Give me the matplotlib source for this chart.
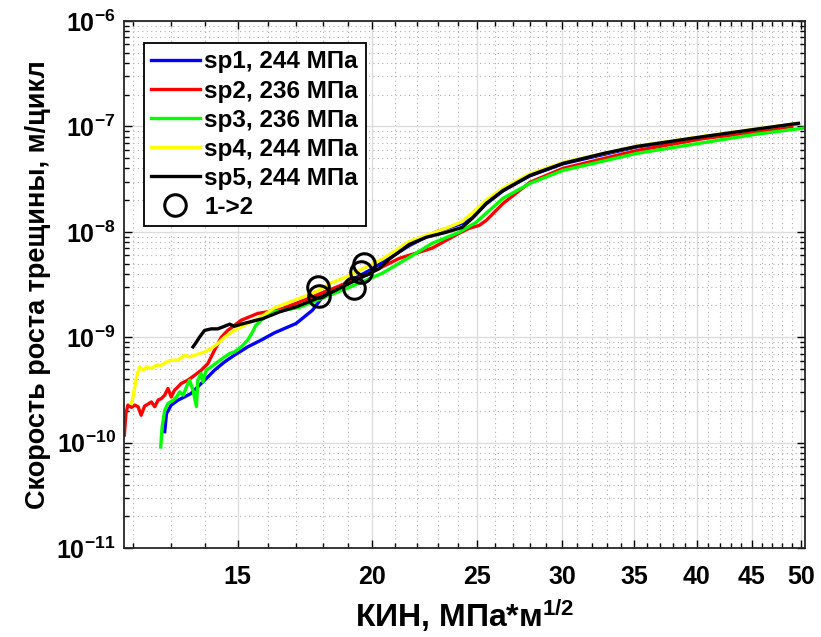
import math
import matplotlib
matplotlib.use("Agg")
import matplotlib.pyplot as plt
from matplotlib.ticker import FixedLocator, NullFormatter, LogLocator, FuncFormatter

plt.rcParams['font.family'] = ['Liberation Sans', 'DejaVu Sans']
plt.rcParams['font.weight'] = 'bold'
plt.rcParams['mathtext.fontset'] = 'custom'
plt.rcParams['mathtext.rm'] = 'Liberation Sans:bold'
plt.rcParams['mathtext.it'] = 'Liberation Sans:bold'
plt.rcParams['mathtext.bf'] = 'Liberation Sans:bold'

# sp1, 244 MPa
k1 = [12.84, 12.89, 13.02, 13.21, 13.4, 13.58, 13.88, 14.08, 14.28, 14.59, 14.9, 15.33,
      15.78, 16.23, 17.0, 17.6, 17.99, 18.38, 19.88, 21.65, 22.93, 24.23, 24.76, 25.51,
      26.45, 28.01, 30.06, 35.19, 40.69, 45.26, 49.5]
v1 = [1.27e-10, 1.89e-10, 2.27e-10, 2.53e-10, 2.72e-10, 2.92e-10, 3.64e-10, 4.2e-10,
      4.86e-10, 5.83e-10, 6.75e-10, 8.1e-10, 9.4e-10, 1.1e-9, 1.35e-9, 1.8e-9, 2.41e-9,
      2.79e-9, 4.3e-9, 7.4e-9, 1.0e-8, 1.2e-8, 1.35e-8, 1.84e-8, 2.45e-8, 3.4e-8, 4.42e-8,
      6.4e-8, 7.95e-8, 9.3e-8, 1.06e-7]

# sp2, 236 MPa
k2 = [11.78, 11.82, 11.87, 11.96, 12.04, 12.13, 12.21, 12.30, 12.39, 12.48, 12.57, 12.66,
      12.75, 12.84, 12.93, 13.02, 13.11, 13.21, 13.30, 13.49, 13.69, 13.88, 14.08, 14.28,
      14.49, 14.69, 15.12, 15.66, 16.4, 17.1, 18.4, 19.75, 21.19, 22.73, 24.08, 24.6,
      25.13, 25.51, 26.45, 28.01, 30.06, 35.19, 40.69, 45.26, 49.0]
v2 = [1.18e-10, 1.9e-10, 2.27e-10, 2.16e-10, 2.27e-10, 2.19e-10, 1.82e-10, 2.22e-10,
      2.32e-10, 2.43e-10, 2.19e-10, 2.53e-10, 2.62e-10, 2.82e-10, 3.26e-10, 2.71e-10,
      3.14e-10, 3.38e-10, 3.64e-10, 3.91e-10, 4.36e-10, 4.86e-10, 5.63e-10, 7.53e-10,
      1.0e-9, 1.16e-9, 1.45e-9, 1.68e-9, 1.82e-9, 2.15e-9, 2.9e-9, 3.9e-9, 5.6e-9, 7.0e-9,
      9.7e-9, 1.08e-8, 1.15e-8, 1.28e-8, 1.86e-8, 2.95e-8, 4.0e-8, 5.9e-8, 7.7e-8, 8.8e-8,
      1.0e-7]

# sp3, 236 MPa
k3 = [12.73, 12.77, 12.84, 12.93, 13.08, 13.17, 13.26, 13.36, 13.45, 13.54, 13.64, 13.74,
      13.78, 13.88, 13.93, 14.03, 14.18, 14.38, 14.59, 14.75, 14.9, 15.12, 15.33, 15.49,
      15.6, 15.78, 15.99, 16.23, 17.12, 19.05, 20.43, 21.65, 22.73, 24.08, 24.97, 25.51,
      26.45, 28.01, 30.06, 35.19, 40.69, 45.26, 50.8]
v3 = [9.1e-11, 1.41e-10, 2.03e-10, 2.35e-10, 2.53e-10, 2.72e-10, 3.03e-10, 2.82e-10,
      3.38e-10, 3.91e-10, 3.14e-10, 2.2e-10, 3.91e-10, 4.53e-10, 3.77e-10, 4.86e-10,
      5.23e-10, 5.83e-10, 6.5e-10, 7.0e-10, 7.25e-10, 8.1e-10, 9.4e-10, 1.12e-9, 1.3e-9,
      1.45e-9, 1.62e-9, 1.74e-9, 1.92e-9, 2.98e-9, 4.04e-9, 5.73e-9, 7.78e-9, 9.9e-9,
      1.23e-8, 1.5e-8, 2.08e-8, 2.88e-8, 3.83e-8, 5.55e-8, 7.05e-8, 8.4e-8, 9.78e-8]

# sp4, 244 MPa
k4 = [11.96, 12.0, 12.09, 12.17, 12.26, 12.35, 12.48, 12.62, 12.75, 12.89, 13.02, 13.21,
      13.4, 13.54, 13.69, 13.98, 14.18, 14.38, 14.59, 14.9, 15.33, 15.78, 16.23, 17.6,
      18.37, 19.0, 20.43, 21.65, 23.52, 24.23, 24.76, 25.51, 26.45, 28.01, 30.06, 35.19,
      40.69, 45.26, 49.3]
v4 = [2.35e-10, 2.72e-10, 4.2e-10, 5.23e-10, 4.86e-10, 5.23e-10, 5.05e-10, 5.43e-10,
      5.43e-10, 5.83e-10, 6.05e-10, 6.05e-10, 6.75e-10, 6.5e-10, 6.75e-10, 7.25e-10,
      7.81e-10, 8.7e-10, 1.0e-9, 1.16e-9, 1.35e-9, 1.56e-9, 1.9e-9, 2.6e-9, 3.3e-9, 3.8e-9,
      5.5e-9, 8.1e-9, 1.1e-8, 1.25e-8, 1.5e-8, 2.0e-8, 2.6e-8, 3.55e-8, 4.55e-8, 6.5e-8,
      8.1e-8, 9.4e-8, 1.06e-7]

# sp5, 244 MPa
k5 = [13.64, 13.74, 13.83, 13.98, 14.18, 14.38, 14.59, 14.75, 14.9, 15.12, 15.54, 15.83,
      16.41, 17.0, 17.6, 18.25, 18.89, 19.59, 20.3, 20.74, 21.65, 22.44, 23.42, 24.23,
      24.76, 25.51, 26.45, 28.01, 30.06, 32.81, 35.19, 40.69, 45.26, 49.7]
v5 = [8.1e-10, 9.0e-10, 1.0e-9, 1.16e-9, 1.2e-9, 1.2e-9, 1.27e-9, 1.33e-9, 1.27e-9,
      1.33e-9, 1.43e-9, 1.5e-9, 1.74e-9, 1.94e-9, 2.24e-9, 2.6e-9, 3.11e-9, 3.73e-9,
      4.48e-9, 5.5e-9, 7.6e-9, 8.87e-9, 9.9e-9, 1.1e-8, 1.34e-8, 1.86e-8, 2.47e-8, 3.43e-8,
      4.46e-8, 5.55e-8, 6.46e-8, 8.04e-8, 9.37e-8, 1.07e-7]

# transition points 1->2
k_tr = [17.83, 17.86, 19.25, 19.67, 19.54]
v_tr = [2.98e-9, 2.45e-9, 2.91e-9, 4.92e-9, 4.13e-9]

labels = ['sp1, 244 МПа', 'sp2, 236 МПа', 'sp3, 236 МПа', 'sp4, 244 МПа', 'sp5, 244 МПа']
colors = ['#0000ff', '#ff0000', '#00ff00', '#ffff00', '#000000']
x_ticks = [15, 20, 25, 30, 35, 40, 45, 50]

fig = plt.figure(figsize=(8.21, 6.37), dpi=100)
ax = fig.add_axes([0.151, 0.1397, 0.8295, 0.8273])

for k, v, lab, c in zip([k1, k2, k3, k4, k5], [v1, v2, v3, v4, v5], labels, colors):
    ax.plot(k, v, color=c, lw=2.4, label=lab)
ax.plot(k_tr, v_tr, 'o', ms=15.5, mfc='none', mec='k', mew=2.2, label='1->2')

ax.set_xscale('log')
ax.set_yscale('log')
ax.set_xlim(11.77, 50.4)
ax.set_ylim(1e-11, 1e-6)

ax.xaxis.set_major_locator(FixedLocator(x_ticks))
ax.xaxis.set_major_formatter(FuncFormatter(lambda x, p: '%d' % round(x)))
minors = [m for m in range(12, 51) if m not in x_ticks]
ax.xaxis.set_minor_locator(FixedLocator(minors))
ax.xaxis.set_minor_formatter(NullFormatter())
ax.yaxis.set_major_locator(FixedLocator([1e-11, 1e-10, 1e-9, 1e-8, 1e-7, 1e-6]))
ax.yaxis.set_minor_locator(LogLocator(base=10, subs=range(2, 10), numticks=10))
ax.yaxis.set_minor_formatter(NullFormatter())
ax.yaxis.set_major_formatter(FuncFormatter(lambda y, p: r'$10^{%d}$' % round(math.log10(y))))
ax.xaxis.get_offset_text().set_visible(False)
ax.yaxis.get_offset_text().set_visible(False)

ax.grid(True, which='major', color='#dcdcdc', lw=1.0, ls='-')
ax.grid(True, which='minor', color='#b0b0b0', lw=0.8, ls=(0, (1, 3)))
ax.set_axisbelow(True)
ax.tick_params(which='both', direction='in', top=True, right=True, width=1.0)
ax.tick_params(which='major', length=6, labelsize=18)
ax.tick_params(axis='x', which='major', pad=12)
ax.tick_params(axis='y', which='major', pad=6)
ax.tick_params(which='minor', length=3.5)
for s in ax.spines.values():
    s.set_linewidth(1.3)
    s.set_color('#262626')

ax.set_xlabel('КИН, МПа*м$^{1/2}$', fontsize=23, fontweight='bold', labelpad=6)
ax.set_ylabel('Скорость роста трещины, м/цикл', fontsize=19.5, fontweight='bold', labelpad=4)

leg = ax.legend(loc='upper left', bbox_to_anchor=(0.029, 0.958), borderaxespad=0,
                fontsize=17.5, fancybox=False, framealpha=1, edgecolor='k',
                handlelength=2.0, handletextpad=0.2, labelspacing=0.25, borderpad=0.3)
leg.get_frame().set_linewidth(1.3)
for t in leg.get_texts():
    t.set_fontweight('bold')

fig.savefig('out.png', dpi=100)
